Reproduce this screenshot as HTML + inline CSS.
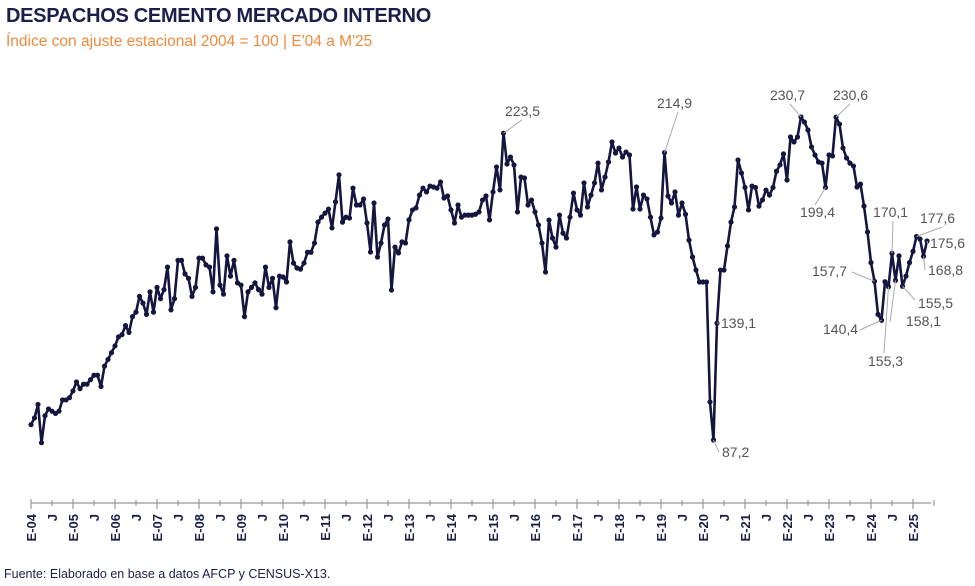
<!DOCTYPE html>
<html><head><meta charset="utf-8"><style>
body{margin:0;background:#fff;width:975px;height:586px;overflow:hidden;font-family:"Liberation Sans",sans-serif}
#title{position:absolute;left:6px;top:5px;font-size:20px;font-weight:bold;color:#1c1f4a;letter-spacing:-0.3px}
#sub{position:absolute;left:6px;top:33px;font-size:15.5px;color:#f08a3c}
#foot{position:absolute;left:4px;top:567px;font-size:12.5px;color:#1c1f4a}
svg{position:absolute;left:0;top:0}
</style></head><body>
<div id="title">DESPACHOS CEMENTO MERCADO INTERNO</div>
<div id="sub">Índice con ajuste estacional 2004 = 100 | E'04 a M'25</div>
<div id="foot">Fuente: Elaborado en base a datos AFCP y CENSUS-X13.</div>
<svg id="chart" width="975" height="586"></svg>
<script>
const values = [
94,97,103,86,98,101,100,99,100,105,105,106,
109,113,110,112,112,114,116,116,111,120,123,126,
129,133,134,138,135,142,144,151,148,143,153,144,
155,150,154,164,145,150,167,167,161,159,151,155,
168,168,165,164,153,181,156,152,169,160,167,157,
156,142,153,155,157,154,152,164,155,159,146,160,
159.6,157.4,175.2,165.8,163.6,163.1,165.8,170.6,170.6,174.7,184,186.2,
188,189.8,181.4,193,205,184,186.2,185.8,199.1,191.6,191.6,194.3,
183.6,170.7,192.5,168.5,174.7,182.7,185.4,153.8,172.9,170.3,175.2,174.7,
185,189.4,190.3,196,199.1,197.4,200,199.6,199.1,201.8,194.7,195.6,
189.4,183.6,191.6,186.2,187.1,187.1,187.1,187.5,188.5,193.8,195.6,185,
197.4,208.5,198.3,223.5,209.8,212.9,209.4,188.5,204,203.6,191.6,193.8,
188.5,182.7,174.7,161.8,184.9,176.9,172.9,187.1,179.1,176.9,186.2,196.9,
189.4,187.1,201.4,190.7,196,201.4,210.2,198.3,204,210.7,219.6,214.7,
216.9,212.9,215.1,213.8,189.8,199.6,189.8,196,194.3,186.2,178.3,179.6,
185.8,214.9,195.6,192.5,197.4,187.1,192.5,187.5,176,168.5,162.7,157.4,
157.4,157.4,104.1,87.2,139.1,162.7,162.7,173.4,184,190.7,211.6,205.8,
199.4,189.4,200,199.4,191.1,193.9,198.2,196,199.4,206.6,209.4,214.3,
202.7,221.8,219.6,221.8,230.7,228.4,224.9,217.4,213.8,210.7,210.2,199.4,
213.8,213.4,230.6,227.5,216.9,212.5,210.2,208.9,199.6,200.9,191.1,179.6,
166,157.7,143,140.4,157.5,155.3,170.1,158.1,169,155.5,160,166,
171,177.6,176.5,168.8,175.6
];
const yearLabels = ["E-04","E-05","E-06","E-07","E-08","E-09","E-10","E-11","E-12","E-13","E-14","E-15","E-16","E-17","E-18","E-19","E-20","E-21","E-22","E-23","E-24","E-25"];
const annText = ["223,5","214,9","87,2","139,1","199,4","230,7","230,6","157,7","140,4","155,3","170,1","158,1","155,5","177,6","168,8","175,6"];
const annIdx = [135,181,195,196,227,220,230,241,243,245,246,247,249,253,255,256];
const x = i => 31 + i*3.5;
const y = v => 440 - (v-87.2)*2.251;
const svg = document.getElementById('chart');
const NS = "http://www.w3.org/2000/svg";
function mk(t,a){const e=document.createElementNS(NS,t);for(const k in a)e.setAttribute(k,a[k]);svg.appendChild(e);return e;}
const ax = mk('line',{x1:31,y1:503,x2:x(values.length-1)+4,y2:503,stroke:'#999','stroke-width':1.3});


for(let i=0;i<=values.length+1;i+=6){
  const major = i%12===0;
  const t = mk('line',{x1:x(i),y1:major?499:500,x2:x(i),y2:major?509:506,stroke:'#999','stroke-width':1.2});
  
  
  const lab = major ? yearLabels[i/12] : 'J';
  if(lab===undefined || (i>values.length)) continue;
  const tx = mk('text',{x:0,y:0,transform:`translate(${x(i)+5},${514}) rotate(-90)`,'text-anchor':'end','font-size':'13','font-weight':'bold',fill:'#1c1f4a'});
  tx.textContent = lab;
  
  
}
const pts = values.map((v,i)=>x(i).toFixed(1)+','+y(v).toFixed(1)).join(' ');
const pl = mk('polyline',{points:pts,fill:'none',stroke:'#15163f','stroke-width':2.6,'stroke-linejoin':'round'});


values.forEach((v,i)=>{
  const c = mk('circle',{cx:x(i),cy:y(v),r:2.6,fill:'#15163f'});
  
  
});
const annPos = {
"223,5":[505,116],"214,9":[657,108],"87,2":[722,457],"139,1":[721,328],"199,4":[800,217],
"230,7":[770,100],"230,6":[833,100],"157,7":[812,276],"140,4":[823,334],"155,3":[868,366],
"170,1":[873,217],"158,1":[906,326],"155,5":[918,308],"177,6":[920,223],"168,8":[928,275],"175,6":[930,248]};
const annEnd = {
"223,5":[522,120],"214,9":[678,112],"87,2":[719,452],"139,1":[719,323],"199,4":[815,205],
"230,7":[790,104],"230,6":[850,104],"157,7":[852,272],"140,4":[860,330],"155,3":[884,353],
"170,1":[893,221],"158,1":[890,322],"155,5":[915,300],"177,6":[942,227],"168,8":[925,270],"175,6":[928,244]};
annText.forEach((s,k)=>{
  const m = annIdx[k]; const p = annPos[s]; const e = annEnd[s];
  const l = mk('line',{x1:x(m),y1:y(values[m]),x2:e[0],y2:e[1],stroke:'#aaa','stroke-width':1});
  
  
  const t = mk('text',{x:p[0],y:p[1],'font-size':'14',fill:'#555'});
  t.textContent = s;
  
  
});
</script>
</body></html>
